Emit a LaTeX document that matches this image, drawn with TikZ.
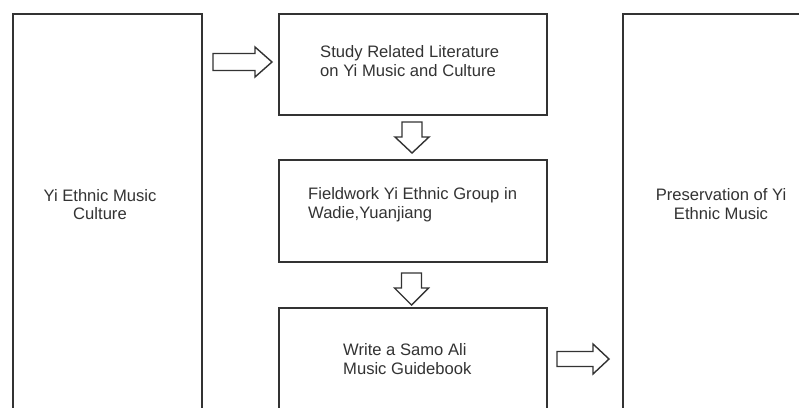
\documentclass[tikz,border=0pt]{standalone}
\usepackage{fontspec}
\setmainfont{Liberation Sans}
\begin{document}
\begin{tikzpicture}[x=1pt,y=-1pt,
  box/.style={draw=black!80, line width=1.5pt, fill=white, rectangle, inner sep=0pt, anchor=north west},
  txt/.style={text=black!80, inner sep=0pt, font=\fontsize{16.6}{18.6}\selectfont},
  blockarrow/.style={draw=black!80, line width=1.4pt, fill=white, line join=miter}]
\useasboundingbox (0,0) rectangle (799,407);
\clip (0,0) rectangle (799,407);
% boxes
\node[box, minimum width=189pt, minimum height=420pt] (left) at (12,13) {};
\node[box, minimum width=268pt, minimum height=101pt] (b1) at (278,13) {};
\node[box, minimum width=268pt, minimum height=102pt] (b2) at (278,159) {};
\node[box, minimum width=268pt, minimum height=120pt] (b3) at (278,307) {};
\node[box, minimum width=200pt, minimum height=420pt] (right) at (622,13) {};
% texts
\node[txt, align=center] (tl) at (100,204.5) {Yi Ethnic Music\\Culture};
\node[txt, align=left, anchor=west] (t1) at (320,61) {Study Related Literature\\on Yi Music and Culture};
\node[txt, align=left, anchor=west] (t2) at (308,205) {Fieldwork Yi Ethnic Group in\\Wadie,Yuanjiang};
\node[txt, align=left, anchor=west] (t3) at (343,359) {Write a Samo Ali\\Music Guidebook};
\node[txt, align=center] (tr) at (721,204) {Preservation of Yi\\Ethnic Music};
% block arrows
\coordinate (a1) at (213,62);
\draw[blockarrow] (a1) ++(0,-8.5) -- ++(42,0) -- ++(0,-6.5) -- ++(17,15) -- ++(-17,15) -- ++(0,-6.5) -- ++(-42,0) -- cycle;
\coordinate (a2) at (412,122);
\draw[blockarrow] (a2) ++(-10,0) -- ++(20,0) -- ++(0,15) -- ++(7,0) -- ++(-17,16) -- ++(-17,-16) -- ++(7,0) -- cycle;
\coordinate (a3) at (411.5,273);
\draw[blockarrow] (a3) ++(-10,0) -- ++(20,0) -- ++(0,15) -- ++(7,0) -- ++(-17,17) -- ++(-17,-17) -- ++(7,0) -- cycle;
\coordinate (a4) at (557,359);
\draw[blockarrow] (a4) ++(0,-7.5) -- ++(36,0) -- ++(0,-7.5) -- ++(16,15) -- ++(-16,15) -- ++(0,-7.5) -- ++(-36,0) -- cycle;
\end{tikzpicture}
\end{document}
